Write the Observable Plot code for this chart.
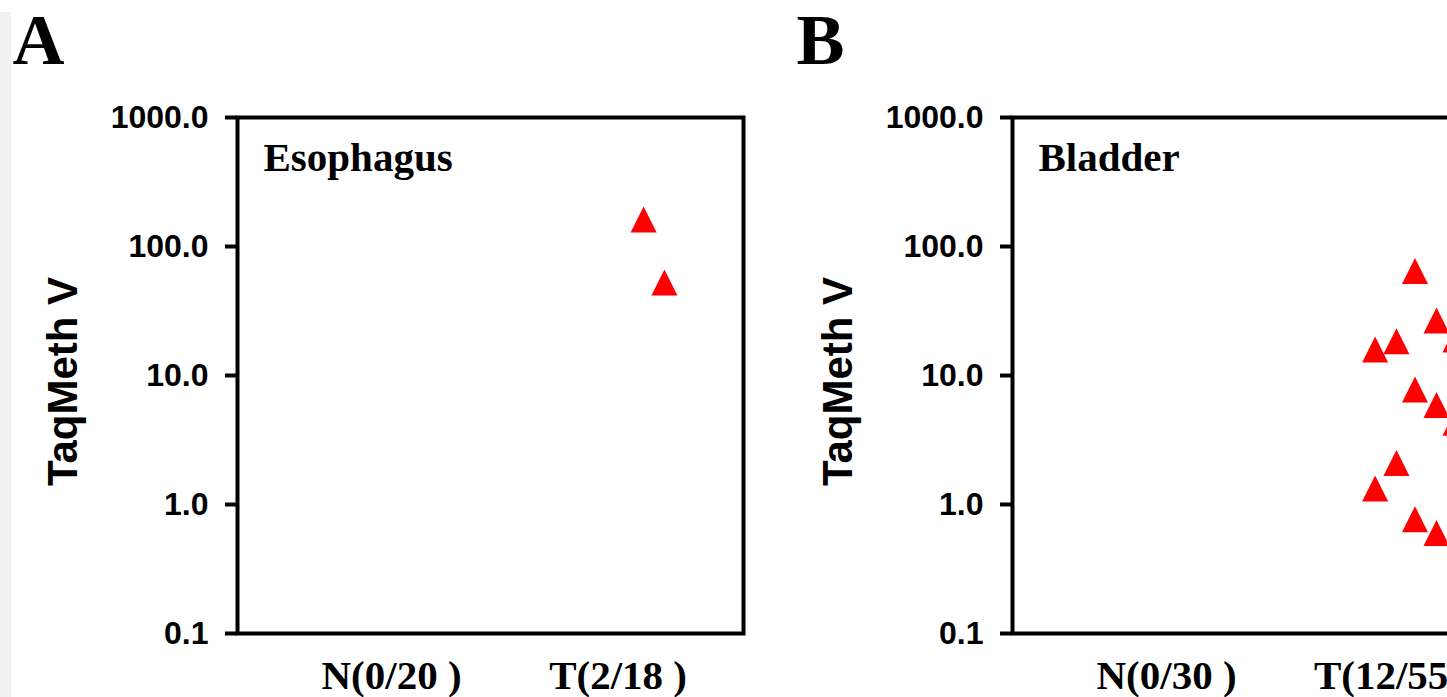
<!DOCTYPE html>
<html><head><meta charset="utf-8">
<script src="https://cdn.jsdelivr.net/npm/d3@7"></script>
<script src="https://cdn.jsdelivr.net/npm/@observablehq/plot@0.6"></script>
<style>
html,body{margin:0;padding:0;background:#fff;overflow:hidden;}
#fig{position:relative;width:1447px;height:697px;overflow:hidden;background:#fff;}
.panel{position:absolute;top:0;width:775px;height:697px;}
.panel svg{max-width:none !important;width:775px;height:697px;}
#strip{position:absolute;left:0;top:12px;width:11px;height:685px;background:#f1f1f1;z-index:2;}
g[aria-label="tissue"] text{letter-spacing:1.4px;}
g[aria-label="y-title"] text{letter-spacing:1px;}
</style></head><body>
<div id="fig"><div id="pa" class="panel" style="left:0"></div><div id="pb" class="panel" style="left:775px"></div><div id="strip"></div></div>
<script>
// ---- data ----
const yTicks = [0.1, 1, 10, 100, 1000];
const yAxisTitle = "TaqMeth V";
const panelLetters = ["A", "B"];
const tissues = ["Esophagus", "Bladder"];
const groupLabelsA = ["N(0/20 )", "T(2/18 )"];
const groupLabelsB = ["N(0/30 )", "T(12/55 )"];
// x = group index (0 = N, 1 = T) plus jitter; y = TaqMeth V
const esophagusX = [1.113, 1.205];
const esophagusY = [162, 52.6];
const bladderX = [1.097, 1.192, 0.921, 1.015, 1.276, 1.097, 1.192, 1.276, 1.015, 0.921, 1.097, 1.192];
const bladderY = [64.6, 26.7, 15.9, 18.4, 19.0, 7.8, 5.9, 4.3, 2.1, 1.33, 0.77, 0.60];

const sans = "'Liberation Sans', Arial, Helvetica, sans-serif";
const serif = "'Liberation Serif', 'Times New Roman', Times, serif";

const triangle = {
  draw(ctx, size) {
    const h = Math.sqrt(size / Math.PI) * 1.3;
    ctx.moveTo(0, -h);
    ctx.lineTo(h, h);
    ctx.lineTo(-h, h);
    ctx.closePath();
  }
};

function panel(letter, letterDx, tissue, labels, xs, ys) {
  const pts = xs.map((x, i) => ({x, y: ys[i]}));
  return Plot.plot({
    width: 775, height: 697,
    marginLeft: 237, marginRight: 32, marginTop: 117, marginBottom: 64,
    x: {type: "linear", domain: [-0.68, 1.554]},
    y: {type: "log", domain: [0.1, 1000]},
    style: {fontFamily: sans, color: "#000", background: "transparent", overflow: "visible"},
    marks: [
      Plot.frame({stroke: "#000", strokeWidth: 4}),
      Plot.axisY({ticks: yTicks, tickFormat: d => d.toFixed(1), tickSize: 12, tickPadding: 17,
        strokeWidth: 4, label: null, fontSize: 32, fontWeight: "bold", fontFamily: sans}),
      Plot.axisX({ticks: [0, 1], tickFormat: i => labels[i], tickSize: 0, tickPadding: 26,
        label: null, fontSize: 41, fontWeight: "bold", fontFamily: serif}),
      Plot.dot(pts, {x: "x", y: "y", symbol: triangle, r: 10, fill: "#ff0000", stroke: "none"}),
      Plot.text([tissue], {text: d => d, frameAnchor: "top-left", dx: 26, dy: 24, ariaLabel: "tissue",
        fontSize: 41, fontWeight: "bold", fontFamily: serif}),
      Plot.text([letter], {text: d => d, frameAnchor: "top-left", dx: letterDx, dy: -105,
        fontSize: 72, fontWeight: "bold", fontFamily: serif}),
      Plot.text([yAxisTitle], {text: d => d, frameAnchor: "left", rotate: -90, dx: -174, dy: 6, ariaLabel: "y-title",
        textAnchor: "middle", lineAnchor: "middle", fontSize: 42, fontWeight: "bold", fontFamily: sans})
    ]
  });
}

document.getElementById("pa").append(panel(panelLetters[0], -225, tissues[0], groupLabelsA, esophagusX, esophagusY));
document.getElementById("pb").append(panel(panelLetters[1], -216, tissues[1], groupLabelsB, bladderX, bladderY));
</script>
</body></html>
